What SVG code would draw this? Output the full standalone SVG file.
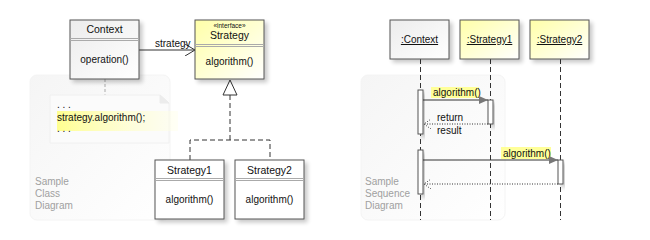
<svg xmlns="http://www.w3.org/2000/svg" width="650" height="240" viewBox="0 0 650 240">
<defs>
  <linearGradient id="panelG" x1="0" y1="0" x2="1" y2="1">
    <stop offset="0" stop-color="#f5f5f5"/>
    <stop offset="1" stop-color="#ffffff"/>
  </linearGradient>
  <linearGradient id="grayG" x1="0" y1="0" x2="1" y2="1">
    <stop offset="0" stop-color="#ececec"/>
    <stop offset="1" stop-color="#ffffff"/>
  </linearGradient>
  <linearGradient id="yelG" x1="0" y1="0" x2="1" y2="1">
    <stop offset="0" stop-color="#ffffa8"/>
    <stop offset="1" stop-color="#ffffff"/>
  </linearGradient>
  <linearGradient id="hlG" x1="0" y1="0" x2="1" y2="0">
    <stop offset="0" stop-color="#ffff90"/>
    <stop offset="1" stop-color="#ffffe8" stop-opacity="0.4"/>
  </linearGradient>
  <filter id="sh" x="-20%" y="-20%" width="150%" height="150%">
    <feGaussianBlur in="SourceAlpha" stdDeviation="2"/>
    <feOffset dx="3" dy="3" result="b"/>
    <feComponentTransfer><feFuncA type="linear" slope="0.22"/></feComponentTransfer>
    <feMerge><feMergeNode/><feMergeNode in="SourceGraphic"/></feMerge>
  </filter>
  <marker id="open" viewBox="0 0 10 12" refX="10" refY="6" markerWidth="10" markerHeight="12" markerUnits="userSpaceOnUse" orient="auto">
    <path d="M0,0 L10,6 L0,12" fill="none" stroke="#333" stroke-width="1"/>
  </marker>
  <marker id="filled" viewBox="0 0 9 8" refX="9" refY="4" markerWidth="9" markerHeight="8" markerUnits="userSpaceOnUse" orient="auto">
    <path d="M0,0 L9,4 L0,8 Z" fill="#777"/>
  </marker>
  <marker id="ret" viewBox="0 0 7 10" refX="7" refY="5" markerWidth="7" markerHeight="10" markerUnits="userSpaceOnUse" orient="auto">
    <path d="M0,0 L7,5 L0,10" fill="none" stroke="#444" stroke-width="1" stroke-dasharray="1,1.5"/>
  </marker>
</defs>
<style>
  text { font-family: "Liberation Sans", Arial, sans-serif; font-size: 10px; fill: #111; }
  text.big { font-size: 10.5px; }
  text.tiny { font-size: 6.5px; }
  .c { text-anchor: middle; }
  .box { stroke: #555; stroke-width: 1; }
  .div { stroke: #aaa; stroke-width: 1; fill: none; }
  text.cap { fill: #a0a0a0; }
  .life { stroke: #333; stroke-width: 1; stroke-dasharray: 5,3; fill: none; }
  .act { fill: #fff; stroke: #555; stroke-width: 1; }
  .msg { stroke: #333; stroke-width: 1; fill: none; }
  .rmsg { stroke: #333; stroke-width: 1; fill: none; stroke-dasharray: 1,1.5; }
  .u { text-decoration: underline; }
  .hl { fill: #ffff99; }
</style>

<!-- panels -->
<rect x="30" y="75" width="140" height="145" rx="7" fill="url(#panelG)" stroke="#f4f4f4"/>
<rect x="361" y="75" width="144" height="145" rx="7" fill="url(#panelG)" stroke="#f4f4f4"/>
<text class="cap" x="35" y="185">Sample</text>
<text class="cap" x="35" y="197">Class</text>
<text class="cap" x="35" y="209">Diagram</text>
<text class="cap" x="365" y="185">Sample</text>
<text class="cap" x="365" y="197">Sequence</text>
<text class="cap" x="365" y="209">Diagram</text>

<!-- connectors (class diagram) -->
<g id="connectors">
  <line x1="105" y1="79" x2="105" y2="95" stroke="#aaa" stroke-dasharray="3,2"/>
  <line class="msg" x1="139" y1="50" x2="195" y2="50" marker-end="url(#open)"/>
  <text x="155" y="46.5">strategy</text>
  <path d="M190,160 V140 H270 V160 M230,140 V95" fill="none" stroke="#333" stroke-dasharray="5,3"/>
  <path d="M230,80 L237,95 L223,95 Z" fill="#fff" stroke="#333"/>
</g>

<!-- note -->
<g id="note">
  <path d="M50,95 H160 L169,103 V143 H50 Z" fill="#fbfbfb" stroke="#f0f0f0"/>
  <path d="M160,95 V103 H169 Z" fill="#ececec" stroke="#ececec"/>
  <rect x="57" y="111" width="121" height="20" fill="url(#hlG)"/>
  <text x="57" y="108">. . .</text>
  <text x="57" y="121">strategy.algorithm();</text>
  <text x="57" y="132">. . .</text>
</g>

<g id="Context">
  <rect class="box" x="70" y="20" width="69" height="59" fill="url(#grayG)" filter="url(#sh)"/>
  <path class="div" d="M70,38.5 H139 M70,40.5 H139"/>
  <text class="c big" x="104.5" y="33">Context</text>
  <text class="c" x="104.5" y="62.5">operation()</text>
</g>

<g id="Strategy">
  <rect class="box" x="195" y="20" width="69" height="59" fill="url(#yelG)" filter="url(#sh)"/>
  <path class="div" d="M195,44.5 H264 M195,46.5 H264"/>
  <text class="c tiny" x="229.5" y="28">«interface»</text>
  <text class="c big" x="229.5" y="38.5">Strategy</text>
  <text class="c" x="229.5" y="64.5">algorithm()</text>
</g>

<g id="Strategy1">
  <rect class="box" x="155" y="160" width="69" height="59" fill="#fff" filter="url(#sh)"/>
  <path class="div" d="M155,178.5 H224 M155,180.5 H224"/>
  <text class="c big" x="189.5" y="173.5">Strategy1</text>
  <text class="c" x="189.5" y="202.5">algorithm()</text>
</g>

<g id="Strategy2">
  <rect class="box" x="235" y="160" width="69" height="59" fill="#fff" filter="url(#sh)"/>
  <path class="div" d="M235,178.5 H304 M235,180.5 H304"/>
  <text class="c big" x="269.5" y="173.5">Strategy2</text>
  <text class="c" x="269.5" y="202.5">algorithm()</text>
</g>

<!-- sequence diagram -->
<g id="seqContext">
  <line class="life" x1="420.5" y1="59" x2="420.5" y2="220"/>
  <rect class="box" x="390" y="20" width="59" height="39" fill="url(#grayG)" filter="url(#sh)"/>
  <text class="c u" x="419.5" y="43">:Context</text>
</g>
<g id="seqStrategy1">
  <line class="life" x1="490.5" y1="59" x2="490.5" y2="220"/>
  <rect class="box" x="460" y="20" width="59" height="39" fill="url(#yelG)" filter="url(#sh)"/>
  <text class="c u" x="489.5" y="43">:Strategy1</text>
</g>
<g id="seqStrategy2">
  <line class="life" x1="560.5" y1="59" x2="560.5" y2="220"/>
  <rect class="box" x="530" y="20" width="59" height="39" fill="url(#yelG)" filter="url(#sh)"/>
  <text class="c u" x="559.5" y="43">:Strategy2</text>
</g>

<g id="activations">
  <rect class="act" x="418" y="90" width="5" height="44" filter="url(#sh)"/>
  <rect class="act" x="418" y="150" width="5" height="44" filter="url(#sh)"/>
  <rect class="act" x="488" y="100" width="5" height="24" filter="url(#sh)"/>
  <rect class="act" x="558" y="160" width="5" height="24" filter="url(#sh)"/>
</g>

<g id="messages">
  <rect class="hl" x="431" y="87" width="48" height="11"/>
  <text x="433" y="96">algorithm()</text>
  <line class="msg" x1="423" y1="100" x2="488" y2="100" marker-end="url(#filled)"/>
  <line class="rmsg" x1="488" y1="124" x2="424" y2="124" marker-end="url(#ret)"/>
  <text x="437" y="121">return</text>
  <text x="437" y="134">result</text>
  <rect class="hl" x="501" y="147" width="50" height="12"/>
  <text x="503" y="157">algorithm()</text>
  <line class="msg" x1="423" y1="160" x2="558" y2="160" marker-end="url(#filled)"/>
  <line class="rmsg" x1="558" y1="184" x2="424" y2="184" marker-end="url(#ret)"/>
</g>
</svg>
